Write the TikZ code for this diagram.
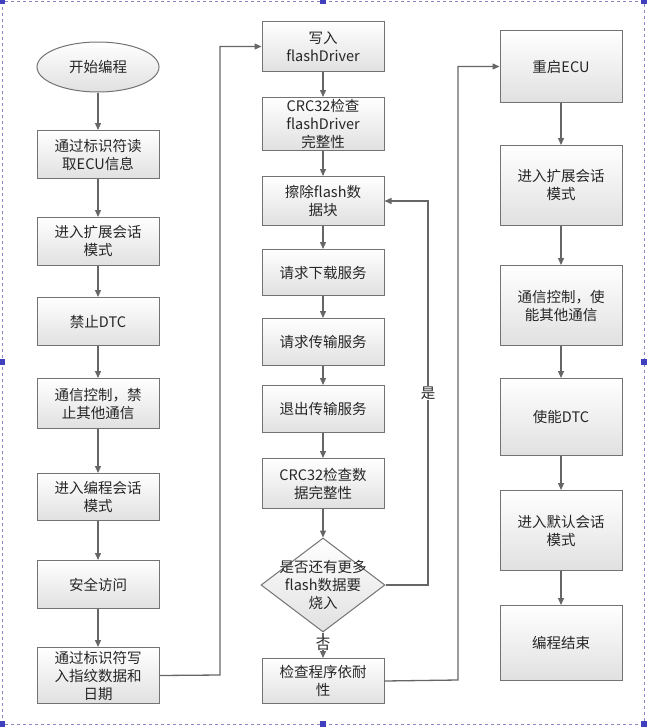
\documentclass[tikz,border=0pt]{standalone}
\usepackage{fontspec}
\setmainfont{Noto Sans CJK SC}
\usetikzlibrary{shapes.geometric,arrows.meta}
\begin{document}
\begin{tikzpicture}[x=1pt,y=-1pt,
  every node/.style={font=\fontsize{14.5}{18}\selectfont, align=center, text=black!85},
  bx/.style={draw=black!55, line width=1pt, top color=white, bottom color=black!12, minimum width=122pt, text width=118pt, inner sep=1pt, anchor=north},
  ell/.style={ellipse, draw=black!55, line width=1pt, top color=white, bottom color=black!12, minimum width=122pt, minimum height=50pt},
  dia/.style={diamond, aspect=1.32, draw=black!55, line width=1pt, top color=white, bottom color=black!12, minimum width=124pt, minimum height=94pt, inner sep=0pt},
  ar/.style={draw=black!60, line width=1.3pt, -{Triangle[length=7pt,width=6pt]}}]
\useasboundingbox (0,0) rectangle (646,728);
\draw[blue!35!gray!70, dashed, line width=0.6pt] (2,1) rectangle (644,724);
\foreach \p in {(2,1),(323,1),(644,1),(2,362),(644,362),(2,724),(323,724),(644,724)}
  \fill[blue!50!gray] \p ++(-3,-3) rectangle ++(6,6);
% column 1
\node[ell] (a0) at (98,67) {开始编程};
\node[bx,minimum height=48pt] (a1) at (98,130) {通过标识符读\\取ECU信息};
\node[bx,minimum height=48pt] (a2) at (98,217) {进入扩展会话\\模式};
\node[bx,minimum height=48pt] (a3) at (98,297) {禁止DTC};
\node[bx,minimum height=50pt] (a4) at (98,378) {通信控制，禁\\止其他通信};
\node[bx,minimum height=47pt] (a5) at (98,473) {进入编程会话\\模式};
\node[bx,minimum height=48pt] (a6) at (98,560) {安全访问};
\node[bx,minimum height=56pt] (a7) at (98,647) {通过标识符写\\入指纹数据和\\日期};
% column 2
\node[bx,minimum height=50pt] (b1) at (323,21) {写入\\flashDriver};
\node[bx,minimum height=53pt] (b2) at (323,97) {CRC32检查\\flashDriver\\完整性};
\node[bx,minimum height=49pt] (b3) at (323,176) {擦除flash数\\据块};
\node[bx,minimum height=46pt] (b4) at (323,249) {请求下载服务};
\node[bx,minimum height=47pt] (b5) at (323,318) {请求传输服务};
\node[bx,minimum height=47pt] (b6) at (323,385) {退出传输服务};
\node[bx,minimum height=50pt] (b7) at (323,458) {CRC32检查数\\据完整性};
\node[dia] (d) at (323,585) {};
\node at (323,585) {是否还有更多\\flash数据要\\烧入};
\node[bx,minimum height=45pt] (b8) at (323,658) {检查程序依耐\\性};
% column 3
\node[bx,minimum height=72pt] (c1) at (561,30) {重启ECU};
\node[bx,minimum height=80pt] (c2) at (561,145) {进入扩展会话\\模式};
\node[bx,minimum height=80pt] (c3) at (561,265) {通信控制，使\\能其他通信};
\node[bx,minimum height=77pt] (c4) at (561,378) {使能DTC};
\node[bx,minimum height=80pt] (c5) at (561,490) {进入默认会话\\模式};
\node[bx,minimum height=75pt] (c6) at (561,605) {编程结束};
% arrows
\foreach \u/\v in {a0/a1,a1/a2,a2/a3,a3/a4,a4/a5,a5/a6,a6/a7,b1/b2,b2/b3,b3/b4,b4/b5,b5/b6,b6/b7,c1/c2,c2/c3,c3/c4,c4/c5,c5/c6}
  \draw[ar] (\u.south) -- (\v.north);
\draw[ar] (b7.south) -- (d.north);
\draw[ar] (d.south) -- node[pos=0.45,fill=white,inner sep=0pt] {否} (b8.north);
\draw[ar] (a7.east) -- (220,675) |- (b1.west);
\draw[ar] (d.east) -- (428,585) |- node[pos=0.25,fill=white,inner sep=1pt] {是} (b3.east);
\draw[ar] (b8.east) -- (458,680) |- (c1.west);
\end{tikzpicture}
\end{document}
